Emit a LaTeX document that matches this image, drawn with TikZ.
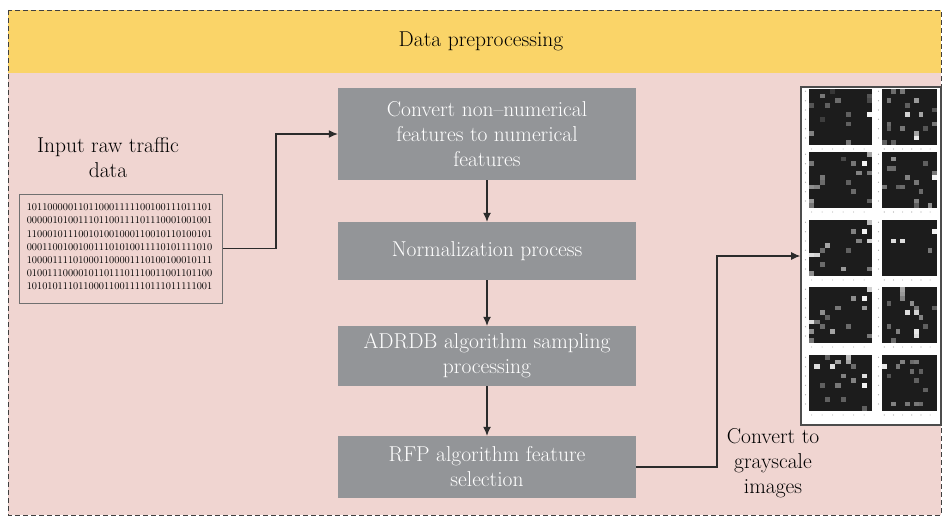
\documentclass[tikz,border=0pt]{standalone}
\usetikzlibrary{arrows.meta}

\definecolor{bandyellow}{HTML}{FAD468}
\definecolor{panelpink}{HTML}{F0D5D1}
\definecolor{boxgray}{HTML}{939598}
\definecolor{linedark}{HTML}{2B2B2B}
\definecolor{mapbg}{HTML}{1C1C1C}
\definecolor{binframe}{HTML}{707070}

\tikzset{
  stepbox/.style={fill=boxgray, text=white, minimum width=298pt, align=center,
    font=\fontsize{21.5}{25}\selectfont, inner sep=0pt},
  arr/.style={draw=linedark, line width=1.1pt, -{Latex[length=9pt,width=8pt]}},
  label/.style={align=center, text=black, font=\fontsize{21.5}{25}\selectfont},
  tickdot/.style={fill=black!35},
}

% one 12x12 grey-level map: x0, y0, width, list of col/row/brightness
\newcommand\hmap[4]{%
  \fill[mapbg] (#1,#2) rectangle ++(#3,56);
  \foreach \c/\r/\v in {#4} {%
    \fill[white!\v!mapbg] ({#1+\c*#3/12},{#2+\r*56/12}) rectangle ++({#3/12},{56/12});
  }%
  \foreach \k in {0,2,4,6,8,10} {%
    \fill[tickdot] ({#1+(\k+0.5)*#3/12},{#2+60}) circle (0.6);
    \fill[tickdot] ({#1-3.5},{#2+(\k+0.5)*56/12}) circle (0.6);
  }%
}

\begin{document}
\begin{tikzpicture}[x=1pt,y=-1pt]
  \useasboundingbox (0,0) rectangle (944,516);

  % frame: title band and body
  \fill[bandyellow] (8,10) rectangle (941,73);
  \fill[panelpink] (8,73) rectangle (941,515);
  \draw[black!75, line width=0.9pt, dash pattern=on 5pt off 3pt] (8,10) rectangle (941,515);
  \node[label] (title) at (481,41) {Data preprocessing};

  % processing steps
  \node[stepbox, minimum height=92pt] (b1) at (487,134)
    {Convert non--numerical\\features to numerical\\features};
  \node[stepbox, minimum height=58pt] (b2) at (487,251) {Normalization process};
  \node[stepbox, minimum height=60pt] (b3) at (487,356)
    {ADRDB algorithm sampling\\processing};
  \node[stepbox, minimum height=62pt] (b4) at (487,467)
    {RFP algorithm feature\\selection};

  % raw input
  \node[label] (inlab) at (108,158) {Input raw traffic\\data};
  \node[draw=binframe, line width=1pt, minimum width=203pt, minimum height=109pt,
        inner sep=0pt] (bin) at (120.5,248.5) {};
  \node[align=center, font=\fontsize{10.3}{13.2}\selectfont, inner sep=0pt] (bits) at (119.5,247)
    {101100000110110001111100100111011101\\
     000001010011101100111101110001001001\\
     110001011100101001000110010110100101\\
     000110010010011101010011110101111010\\
     100001111010001100001110100100010111\\
     010011100001011011101110011001101100\\
     101010111011000110011110111011111001};

  % image panel
  \node[draw=black!70, line width=1.6pt, fill=white, minimum width=140pt,
        minimum height=338pt, inner sep=0pt] (imgs) at (871,256) {};
  \hmap{809}{89}{63}{2/1/40,5/2/35,3/3/30,0/3/25,11/5/95,7/5/30,7/7/30,0/9/45,7/11/40,11/2/20,2/6/15,4/0/12,11/1/25}
  \hmap{882}{89}{55}{5/5/80,8/5/60,7/2/55,4/0/40,1/2/40,2/0/35,7/10/90,7/9/60,4/8/40,1/8/30,1/7/35,11/7/40,11/4/25,2/11/30,0/11/30,5/3/30,9/8/25}
  \hmap{809}{152}{63}{10/2/95,11/0/60,0/2/40,8/2/40,9/4/45,11/4/40,2/5/40,2/6/35,0/7/50,1/7/45,7/6/30,8/8/35,0/10/55,0/11/40,6/1/20,11/10/30}
  \hmap{882}{152}{55}{2/1/50,1/3/35,2/3/35,11/5/95,11/4/40,5/5/45,7/6/40,0/7/40,3/7/30,4/7/35,8/8/35,7/10/45,10/11/50,9/2/30,7/11/30}
  \hmap{809}{220}{63}{10/2/95,11/4/80,11/0/70,8/2/45,3/5/60,0/7/85,1/7/80,2/6/35,2/9/35,6/10/55,9/4/45,0/11/50,11/10/40,7/6/30}
  \hmap{882}{220}{55}{2/4/85,4/4/85,11/2/95,10/6/40}
  \hmap{809}{287}{63}{10/2/95,11/0/80,8/2/50,10/4/55,5/4/40,2/5/50,0/7/85,1/7/40,0/9/50,2/8/35,4/9/60,7/8/35,11/10/40,0/11/40,3/6/30}
  \hmap{882}{287}{55}{4/0/60,4/1/55,4/2/45,6/3/50,7/4/40,5/5/85,7/5/80,8/6/45,1/3/30,1/8/35,3/9/45,7/9/90,7/10/85,2/11/35,9/8/30,11/4/30}
  \hmap{809}{355}{63}{1/2/85,4/2/85,5/1/60,7/0/70,7/1/60,3/0/30,6/4/45,10/4/85,10/6/95,8/5/45,8/2/35,5/6/40,2/6/30,6/9/30,3/9/30,10/11/30}
  \hmap{882}{355}{55}{0/2/90,3/2/40,4/1/45,6/1/35,7/1/40,6/3/35,8/3/30,7/5/30,9/7/30,2/10/45,5/10/40,7/10/40,8/10/35,1/4/25}

  \node[label] (outlab) at (773,463) {Convert to\\grayscale\\images};

  % connectors
  \draw[arr] (bin.east) -- (276,248.5) |- (b1.west);
  \draw[arr] (b1.south) -- (b2.north);
  \draw[arr] (b2.south) -- (b3.north);
  \draw[arr] (b3.south) -- (b4.north);
  \draw[arr] (b4.east) -- (717,467) |- (imgs.west);
\end{tikzpicture}
\end{document}
